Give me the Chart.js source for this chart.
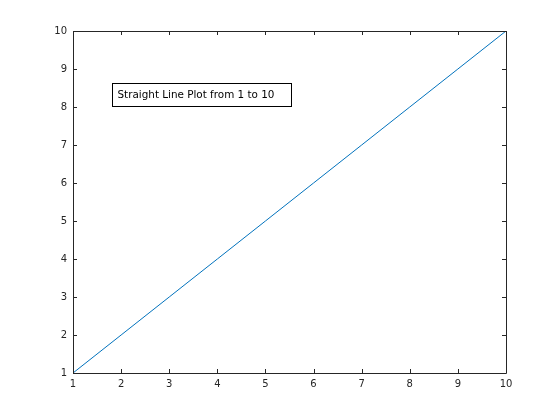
<!DOCTYPE html>
<html>
<head>
<meta charset="utf-8">
<script src="https://cdn.jsdelivr.net/npm/chart.js@4/dist/chart.umd.min.js"></script>
<style>
html,body{margin:0;padding:0;background:#fff;}
canvas{display:block;}
</style>
</head>
<body>
<canvas id="c" width="560" height="420"></canvas>
<script>
const xValues = [1, 2, 3, 4, 5, 6, 7, 8, 9, 10];
const yValues = [1, 2, 3, 4, 5, 6, 7, 8, 9, 10];
const xTicks = [1, 2, 3, 4, 5, 6, 7, 8, 9, 10];
const yTicks = [1, 2, 3, 4, 5, 6, 7, 8, 9, 10];
const annotationText = 'Straight Line Plot from 1 to 10';

const axisColor = '#262626';
const font = {family: 'DejaVu Sans', size: 10};

const boxPlugin = {
  id: 'matlabBox',
  afterDraw(chart) {
    const ctx = chart.ctx;
    const a = chart.chartArea;
    const xs = chart.scales.x, ys = chart.scales.y;
    ctx.save();
    ctx.strokeStyle = axisColor;
    ctx.lineWidth = 1;
    ctx.beginPath();
    ctx.rect(Math.round(a.left) + 0.5, Math.round(a.top) + 0.5,
             Math.round(a.right - a.left), Math.round(a.bottom - a.top));
    const L = 4;
    xTicks.forEach(v => {
      const px = Math.round(xs.getPixelForValue(v)) + 0.5;
      ctx.moveTo(px, Math.round(a.bottom)); ctx.lineTo(px, Math.round(a.bottom) - L);
      ctx.moveTo(px, Math.round(a.top)); ctx.lineTo(px, Math.round(a.top) + L);
    });
    yTicks.forEach(v => {
      const py = Math.round(ys.getPixelForValue(v)) + 0.5;
      ctx.moveTo(Math.round(a.left), py); ctx.lineTo(Math.round(a.left) + L, py);
      ctx.moveTo(Math.round(a.right), py); ctx.lineTo(Math.round(a.right) - L, py);
    });
    ctx.stroke();
    // annotation text box (figure-normalized placement)
    const bx = Math.round(a.left + 0.09 * (a.right - a.left)) + 0.5;
    const by = Math.round(a.top + 0.152 * (a.bottom - a.top)) + 0.5;
    const bw = Math.round(0.413 * (a.right - a.left)), bh = 23;
    ctx.fillStyle = '#fff';
    ctx.fillRect(bx, by, bw, bh);
    ctx.strokeStyle = '#000';
    ctx.strokeRect(bx, by, bw, bh);
    ctx.font = '10.4px "DejaVu Sans"';
    ctx.fillStyle = '#000';
    ctx.textBaseline = 'middle';
    ctx.textAlign = 'left';
    ctx.fillText(annotationText, bx + 5, by + bh / 2);
    ctx.restore();
  }
};

new Chart(document.getElementById('c'), {
  type: 'line',
  data: {
    datasets: [{
      data: xValues.map((x, i) => ({x: x, y: yValues[i]})),
      borderColor: '#0072BD',
      borderWidth: 1,
      pointRadius: 0,
      fill: false,
      tension: 0
    }]
  },
  options: {
    responsive: false,
    animation: false,
    devicePixelRatio: 1,
    layout: {padding: {top: 31, right: 54, left: 0, bottom: 0}},
    plugins: {legend: {display: false}, tooltip: {enabled: false}},
    scales: {
      x: {
        type: 'linear', min: 1, max: 10,
        afterFit(s) { s.height = 47; },
        afterBuildTicks(s) { s.ticks = xTicks.map(v => ({value: v})); },
        grid: {display: false, drawTicks: false},
        border: {display: false},
        ticks: {color: axisColor, font: font, padding: 5, maxRotation: 0, autoSkip: false}
      },
      y: {
        type: 'linear', min: 1, max: 10,
        afterFit(s) { s.width = 73; },
        afterBuildTicks(s) { s.ticks = yTicks.map(v => ({value: v})); },
        grid: {display: false, drawTicks: false},
        border: {display: false},
        ticks: {color: axisColor, font: font, padding: 6, autoSkip: false}
      }
    }
  },
  plugins: [boxPlugin]
});
</script>
</body>
</html>
